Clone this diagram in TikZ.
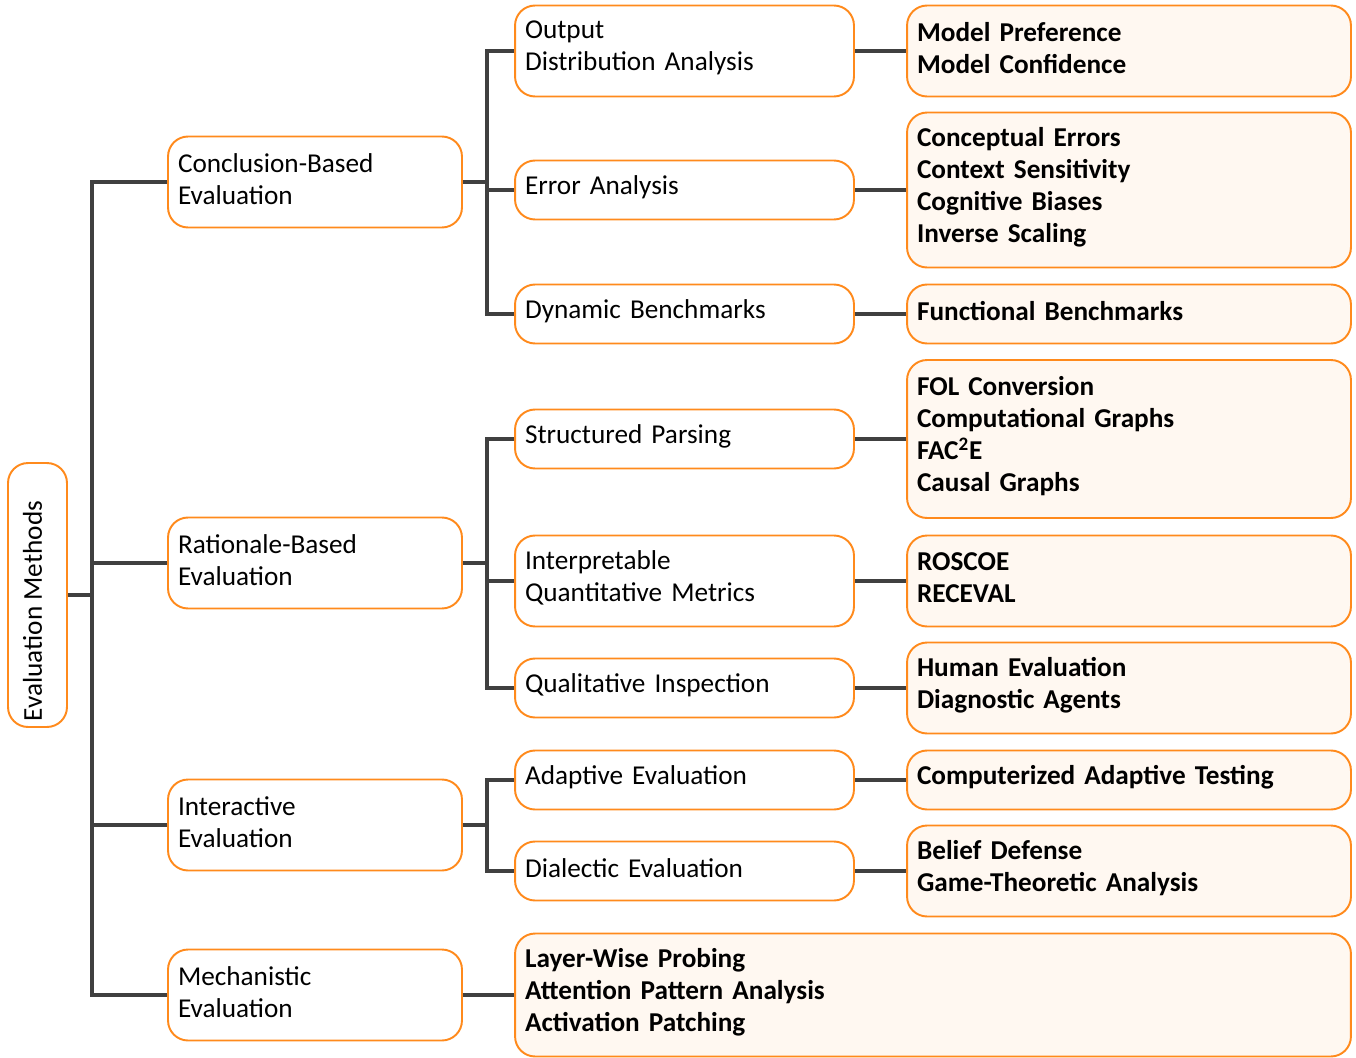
\documentclass[tikz,border=0pt]{standalone}
\usepackage{fontspec}
\setmainfont{Carlito}
\usepackage{tikz}

\definecolor{boxorange}{HTML}{FF8A1C}
\definecolor{leaffill}{HTML}{FFF8F1}
\definecolor{linegray}{HTML}{404040}

\tikzset{
    box/.style={draw=boxorange, line width=1.1pt, rounded corners=0.4cm, inner sep=0pt,
        align=left, font=\fontsize{15.5}{18.2}\selectfont, fill=white},
    lvlone/.style={box, minimum width=5.88cm, text width=5.48cm, minimum height=1.82cm,
        execute at end node={\par\vspace{0.12cm}}},
    lvltwo/.style={lvlone, minimum width=6.78cm, text width=6.38cm, minimum height=1.18cm},
    leaf/.style={lvlone, fill=leaffill, minimum width=8.88cm, text width=8.48cm,
        font=\fontsize{15.5}{18.2}\selectfont\bfseries},
    link/.style={draw=linegray, line width=2.3pt}
}

\begin{document}
\begin{tikzpicture}[x=0.02cm, y=-0.02cm]
    \useasboundingbox (0,0) rectangle (1356,1058);

    \node(root)[box, align=center, minimum width=1.18cm, minimum height=5.28cm] at (37.5,595) {\rotatebox{90}{\raisebox{0.2cm}{Evaluation Methods}\hspace*{0.64cm}}};

    \node(conc)[lvlone] at (315,182) {Conclusion-Based\\Evaluation};
    \node(rat)[lvlone] at (315,563) {Rationale-Based\\Evaluation};
    \node(inter)[lvlone] at (315,825) {Interactive\\Evaluation};
    \node(mech)[lvlone] at (315,995) {Mechanistic\\Evaluation};

    \node(oda)[lvltwo, minimum height=1.82cm] at (684.5,51) {Output\\Distribution Analysis};
    \node(err)[lvltwo] at (684.5,190) {Error Analysis};
    \node(dyn)[lvltwo] at (684.5,314) {Dynamic Benchmarks};
    \node(parse)[lvltwo] at (684.5,439) {Structured Parsing};
    \node(metric)[lvltwo, minimum height=1.82cm] at (684.5,581) {Interpretable\\Quantitative Metrics};
    \node(qual)[lvltwo] at (684.5,688) {Qualitative Inspection};
    \node(adapt)[lvltwo] at (684.5,780) {Adaptive Evaluation};
    \node(dial)[lvltwo] at (684.5,871) {Dialectic Evaluation};

    \node(pref)[leaf, minimum height=1.82cm] at (1129,51) {Model Preference\\Model Confidence};
    \node(errs)[leaf, minimum height=3.1cm] at (1129,190) {Conceptual Errors\\Context Sensitivity\\Cognitive Biases\\Inverse Scaling};
    \node(func)[leaf, minimum height=1.18cm] at (1129,314) {Functional Benchmarks};
    \node(fol)[leaf, minimum height=3.16cm] at (1129,439) {FOL Conversion\\Computational Graphs\\FAC\textsuperscript{2}E\\Causal Graphs};
    \node(rosc)[leaf, minimum height=1.82cm] at (1129,581) {ROSCOE\\RECEVAL};
    \node(human)[leaf, minimum height=1.82cm] at (1129,688) {Human Evaluation\\Diagnostic Agents};
    \node(cat)[leaf, minimum height=1.18cm] at (1129,780) {Computerized Adaptive Testing};
    \node(belief)[leaf, minimum height=1.82cm] at (1129,871) {Belief Defense\\Game-Theoretic Analysis};
    \node(probe)[leaf, minimum width=16.72cm, text width=16.32cm, minimum height=2.46cm] at (933,995) {Layer-Wise Probing\\Attention Pattern Analysis\\Activation Patching};

    % trunk and branches
    \coordinate(trunk) at (92,0);
    \coordinate(branch) at (487,0);

    \draw[link] (root.east) -- (root.east -| trunk);
    \draw[link] (conc.west) -- (conc.west -| trunk) -- (mech.west -| trunk) -- (mech.west);
    \draw[link] (rat.west) -- (rat.west -| trunk);
    \draw[link] (inter.west) -- (inter.west -| trunk);

    \draw[link] (conc.east) -- (conc.east -| branch);
    \draw[link] (oda.west) -- (oda.west -| branch) -- (dyn.west -| branch) -- (dyn.west);
    \draw[link] (err.west) -- (err.west -| branch);

    \draw[link] (rat.east) -- (rat.east -| branch);
    \draw[link] (parse.west) -- (parse.west -| branch) -- (qual.west -| branch) -- (qual.west);
    \draw[link] (metric.west) -- (metric.west -| branch);

    \draw[link] (inter.east) -- (inter.east -| branch);
    \draw[link] (adapt.west) -- (adapt.west -| branch) -- (dial.west -| branch) -- (dial.west);

    % leaves
    \draw[link] (oda) -- (pref);
    \draw[link] (err) -- (errs);
    \draw[link] (dyn) -- (func);
    \draw[link] (parse) -- (fol);
    \draw[link] (metric) -- (rosc);
    \draw[link] (qual) -- (human);
    \draw[link] (adapt) -- (cat);
    \draw[link] (dial) -- (belief);
    \draw[link] (mech) -- (probe);
\end{tikzpicture}
\end{document}
